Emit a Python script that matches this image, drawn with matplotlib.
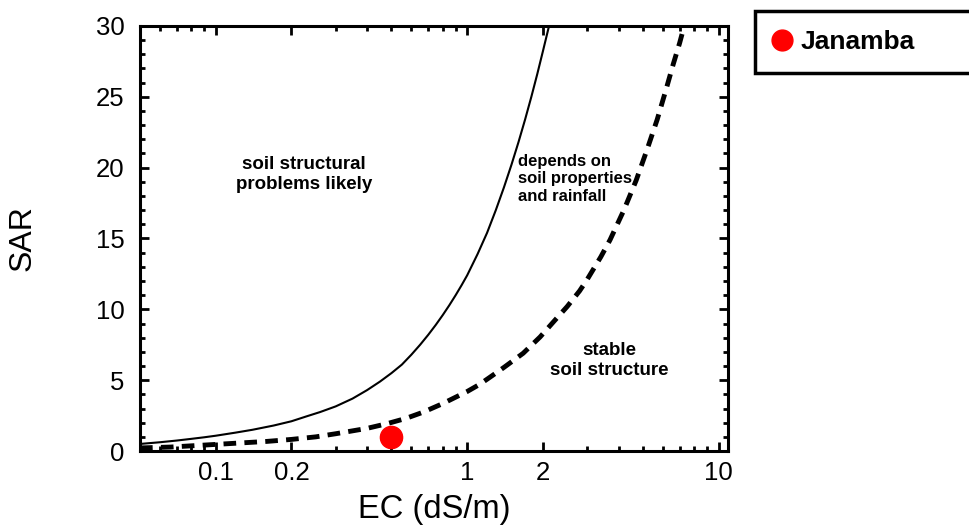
import matplotlib.pyplot as plt
from matplotlib.ticker import FixedLocator, FixedFormatter, MultipleLocator

plt.rcParams['font.family'] = ['Liberation Sans', 'DejaVu Sans']

# threshold curves (EC in dS/m, SAR)
ec_solid = [0.05, 0.06, 0.07, 0.08, 0.09, 0.1, 0.12, 0.14, 0.17, 0.2, 0.23, 0.26,
            0.3, 0.35, 0.4, 0.45, 0.5, 0.55, 0.6, 0.65, 0.7, 0.75, 0.8, 0.85, 0.9,
            0.95, 1.0, 1.1, 1.2, 1.3, 1.4, 1.5, 1.6, 1.7, 1.8, 1.9, 2.0, 2.13]
sar_solid = [0.5, 0.62, 0.74, 0.86, 0.97, 1.08, 1.3, 1.5, 1.8, 2.1, 2.45, 2.75,
             3.15, 3.7, 4.3, 4.9, 5.5, 6.1, 6.8, 7.5, 8.2, 8.9, 9.6, 10.3, 11.0,
             11.7, 12.4, 13.9, 15.4, 17.0, 18.6, 20.2, 21.8, 23.4, 25.0, 26.6, 28.2, 30.2]

ec_dashed = [0.05, 0.066, 0.09, 0.12, 0.16, 0.2, 0.25, 0.3, 0.4, 0.48, 0.57, 0.67,
             0.8, 0.9, 1.0, 1.12, 1.23, 1.4, 1.67, 1.95, 2.2, 2.5, 2.8, 3.0, 3.4,
             3.7, 4.2, 4.7, 5.2, 5.7, 6.2, 6.6, 7.0, 7.35]
sar_dashed = [0.22, 0.28, 0.42, 0.55, 0.68, 0.82, 1.0, 1.22, 1.6, 1.93, 2.3, 2.75,
              3.35, 3.8, 4.2, 4.7, 5.2, 5.9, 6.9, 8.05, 9.1, 10.2, 11.3, 12.1, 13.7,
              14.9, 17.0, 19.1, 21.3, 23.4, 25.6, 27.3, 28.8, 30.2]

site_names = ['Janamba']
site_ec = [0.5]
site_sar = [1.0]

x_major = [0.1, 0.2, 1, 2, 10]
x_major_labels = ['0.1', '0.2', '1', '2', '10']
x_minor = [0.05, 0.06, 0.07, 0.08, 0.09, 0.3, 0.4, 0.5, 0.6, 0.7, 0.8, 0.9,
           3, 4, 5, 6, 7, 8, 9]

fig = plt.figure(figsize=(9.69, 5.30), dpi=100)
ax = fig.add_axes([0.1445, 0.149, 0.6068, 0.802])

ax.plot(ec_solid, sar_solid, color='black', lw=1.5)
ax.plot(ec_dashed, sar_dashed, color='black', lw=3.5, dashes=(2.6, 1.7),
        dash_capstyle='butt')
ax.plot(site_ec, site_sar, 'o', color='#ff0000', markersize=16,
        label=site_names[0], zorder=5)

ax.set_xscale('log')
ax.set_xlim(0.05, 10.9)
ax.set_ylim(0, 30)

ax.xaxis.set_major_locator(FixedLocator(x_major))
ax.xaxis.set_major_formatter(FixedFormatter(x_major_labels))
ax.xaxis.set_minor_locator(FixedLocator(x_minor))
ax.xaxis.set_minor_formatter(FixedFormatter([''] * len(x_minor)))
ax.yaxis.set_major_locator(MultipleLocator(5))
ax.yaxis.set_minor_locator(MultipleLocator(1))

for s in ax.spines.values():
    s.set_linewidth(2.2)
ax.tick_params(which='both', direction='in', top=True, right=True, width=2)
ax.tick_params(which='major', length=6.5, labelsize=18.5)
ax.tick_params(which='minor', length=3.5)
ax.tick_params(axis='x', which='major', pad=7)
ax.tick_params(axis='y', which='major', pad=11)

ax.set_xlabel('EC (dS/m)', fontsize=23.5, labelpad=7)
ax.set_ylabel('SAR', fontsize=23)
ax.yaxis.set_label_coords(-0.175, 0.5)

ax.text(0.225, 19.5, 'soil structural\nproblems likely', ha='center', va='center',
        fontsize=13.5, fontweight='bold', linespacing=1.2)
ax.text(1.59, 19.2, 'depends on\nsoil properties\nand rainfall', ha='left', va='center',
        fontsize=12, fontweight='bold', linespacing=1.2)
ax.text(3.69, 6.4, 'stable\nsoil structure', ha='center', va='center',
        fontsize=13.5, fontweight='bold', linespacing=1.2)

leg = ax.legend(loc='upper left', bbox_to_anchor=(0.779, 0.864, 0.3, 0.115),
                bbox_transform=fig.transFigure, mode='expand', borderaxespad=0,
                fancybox=False, framealpha=1, handlelength=0.6, handletextpad=0.4,
                borderpad=0.72, prop={'size': 19, 'weight': 'bold'})
leg.get_frame().set_edgecolor('black')
leg.get_frame().set_linewidth(2.5)
leg.legend_handles[0].set_markersize(15)

fig.savefig('out.png', dpi=100)
